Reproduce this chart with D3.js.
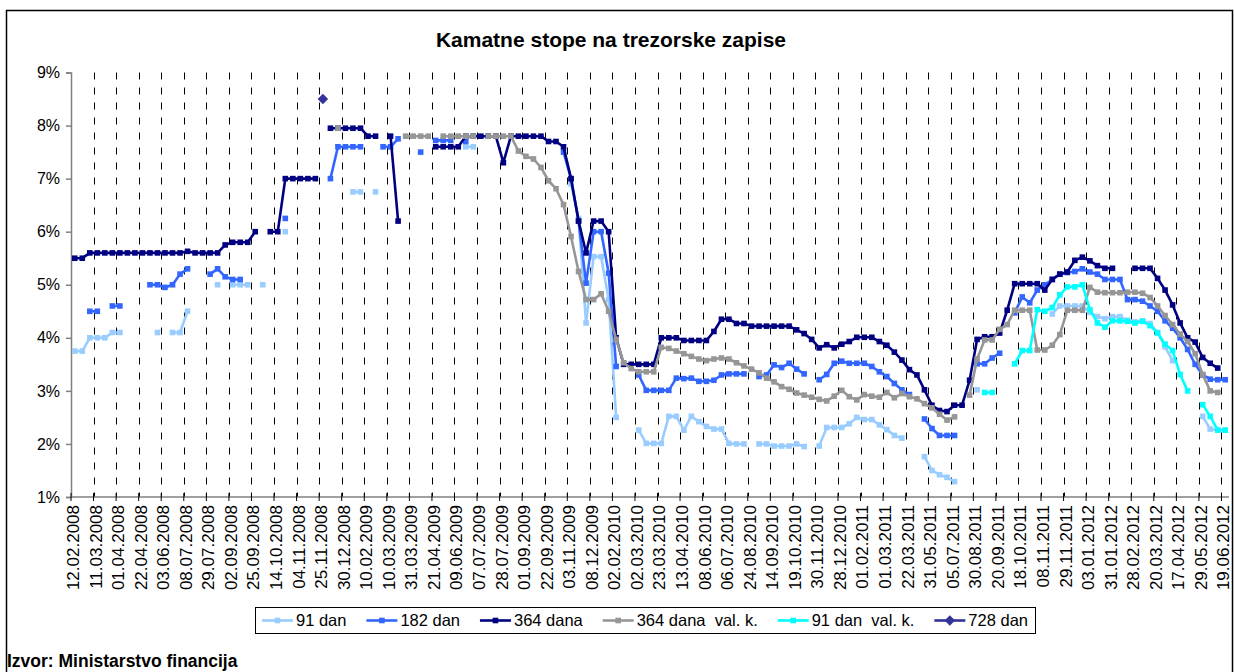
<!DOCTYPE html>
<html>
<head>
<meta charset="utf-8">
<script src="https://cdn.jsdelivr.net/npm/d3@7"></script>
<style>
  body { margin: 0; background: #fff; }
  svg { display: block; font-family: Arial, "Liberation Sans", sans-serif; }
</style>
</head>
<body>
<svg id="chart"></svg>
<script>
const _ = null;

// tick labels, one every 3 auctions
const tickLabels = ["12.02.2008","11.03.2008","01.04.2008","22.04.2008","03.06.2008","08.07.2008","29.07.2008",
  "02.09.2008","25.09.2008","14.10.2008","04.11.2008","25.11.2008","30.12.2008","10.02.2009","10.03.2009",
  "31.03.2009","21.04.2009","09.06.2009","07.07.2009","28.07.2009","01.09.2009","22.09.2009","03.11.2009",
  "08.12.2009","02.02.2010","02.03.2010","23.03.2010","13.04.2010","08.06.2010","06.07.2010","24.08.2010",
  "14.09.2010","19.10.2010","30.11.2010","28.12.2010","01.02.2011","01.03.2011","22.03.2011","31.05.2011",
  "05.07.2011","30.08.2011","20.09.2011","18.10.2011","08.11.2011","29.11.2011","03.01.2012","31.01.2012",
  "28.02.2012","20.03.2012","17.04.2012","29.05.2012","19.06.2012"];
const nAuctions = 154;

// values in %, one per auction
const dan91 = [
  3.75,3.75,4.0,4.0,4.0,4.1,4.1,_,_,_,
  _,4.1,_,4.1,4.1,4.5,_,_,_,5.0,
  _,5.0,5.0,5.0,_,5.0,_,_,6.0,_,
  _,_,_,_,_,_,_,6.75,6.75,_,
  6.75,_,_,_,_,_,_,_,_,_,
  _,_,7.6,7.6,_,_,_,_,_,_,
  _,_,_,_,_,_,6.9,6.25,4.28,5.53,
  5.53,4.72,2.5,_,_,2.26,2.01,2.01,2.01,2.52,
  2.52,2.26,2.52,2.42,2.33,2.28,2.28,2.01,2.0,2.0,
  _,2.0,2.0,1.96,1.96,1.96,2.0,1.95,_,1.96,
  2.31,2.31,2.31,2.38,2.5,2.46,2.46,2.36,2.27,2.16,
  2.11,_,_,1.76,1.5,1.42,1.37,1.29,_,_,
  3.02,_,_,_,_,_,_,_,_,_,
  4.45,4.6,4.6,4.6,4.6,4.48,4.4,4.36,4.4,4.4,
  4.33,4.3,4.32,4.27,4.1,3.83,3.57,_,_,_,
  2.52,2.28,2.26,2.26];

const dan182 = [
  _,_,4.5,4.5,_,4.6,4.6,_,_,_,
  5.0,5.0,4.95,5.0,5.2,5.3,_,_,5.2,5.3,
  5.15,5.1,5.1,_,_,_,_,_,6.25,_,
  _,_,_,_,7.0,7.6,7.6,7.6,7.6,_,
  _,7.6,7.6,7.75,_,_,7.5,_,7.72,7.72,
  7.72,_,7.7,_,_,_,_,_,_,_,
  _,_,_,_,_,7.5,7.0,6.2,5.03,6.0,
  6.0,5.22,3.46,_,_,3.3,3.01,3.01,3.01,3.01,
  3.24,3.23,3.24,3.18,3.18,3.2,3.3,3.32,3.32,3.32,
  _,3.27,3.3,3.49,3.44,3.52,3.41,3.32,_,3.21,
  3.31,3.52,3.56,3.52,3.52,3.52,3.46,3.36,3.27,3.14,
  3.02,2.93,_,2.47,2.29,2.16,2.16,2.16,_,_,
  3.51,3.51,3.62,3.71,_,4.47,4.77,4.66,4.9,5.0,
  5.1,5.2,5.23,5.25,5.3,5.24,5.2,5.1,5.1,5.1,
  4.72,4.72,4.69,4.6,4.5,4.32,4.18,4.0,3.78,3.5,
  3.3,3.22,3.21,3.21];

const dan364 = [
  5.5,5.5,5.6,5.6,5.6,5.6,5.6,5.6,5.6,5.6,
  5.6,5.6,5.6,5.6,5.6,5.63,5.6,5.6,5.6,5.6,
  5.75,5.8,5.8,5.8,6.0,_,6.0,6.0,7.0,7.0,
  7.0,7.0,7.0,_,7.95,7.95,7.95,7.95,7.95,7.8,
  7.8,_,7.8,6.2,_,_,_,_,7.6,7.6,
  7.6,7.6,7.8,7.8,7.8,7.8,7.8,7.3,7.8,7.8,
  7.8,7.8,7.8,7.7,7.7,7.6,7.0,6.2,5.6,6.2,
  6.2,6.0,4.0,3.5,3.5,3.5,3.5,3.5,4.0,4.0,
  4.0,3.95,3.95,3.95,3.95,4.12,4.35,4.35,4.27,4.27,
  4.22,4.22,4.22,4.22,4.22,4.22,4.15,4.08,3.97,3.81,
  3.87,3.81,3.88,3.93,4.01,4.01,4.01,3.93,3.86,3.73,
  3.58,3.4,3.3,3.02,2.73,2.63,2.61,2.73,2.73,3.2,
  3.97,4.02,4.02,4.09,4.52,5.02,5.02,5.02,5.02,4.9,
  5.1,5.2,5.24,5.46,5.52,5.45,5.36,5.31,5.31,_,
  _,5.31,5.31,5.31,5.12,4.9,4.62,4.28,4.0,3.92,
  3.63,3.52,3.43,_];

const dan364vk = [
  _,_,_,_,_,_,_,_,_,_,
  _,_,_,_,_,_,_,_,_,_,
  _,_,_,_,_,_,_,_,_,_,
  _,_,_,_,_,7.95,_,_,_,_,
  _,_,_,_,7.8,7.8,7.8,7.8,_,7.8,
  7.8,7.8,7.8,7.8,_,7.8,7.8,7.8,7.8,7.52,
  7.42,7.37,7.21,6.96,6.81,6.51,5.91,5.25,4.72,4.72,
  4.83,4.5,3.97,3.53,3.42,3.36,3.36,3.36,3.82,3.8,
  3.75,3.7,3.65,3.6,3.57,3.6,3.62,3.6,3.53,3.47,
  3.41,3.34,3.24,3.17,3.08,3.03,2.96,2.92,2.88,2.84,
  2.81,2.9,3.01,2.89,2.83,2.93,2.9,2.88,2.97,2.87,
  2.95,2.89,2.85,2.76,2.68,2.56,2.45,2.51,_,2.92,
  3.6,3.96,3.96,4.16,4.25,4.52,4.52,4.52,3.77,3.77,
  3.86,4.06,4.52,4.52,4.52,4.95,4.86,4.85,4.85,4.85,
  4.86,4.86,4.84,4.76,4.6,4.42,4.25,4.07,3.93,3.7,
  3.31,3.0,2.97,_];

const dan91vk = [
  _,_,_,_,_,_,_,_,_,_,
  _,_,_,_,_,_,_,_,_,_,
  _,_,_,_,_,_,_,_,_,_,
  _,_,_,_,_,_,_,_,_,_,
  _,_,_,_,_,_,_,_,_,_,
  _,_,_,_,_,_,_,_,_,_,
  _,_,_,_,_,_,_,_,_,_,
  _,_,_,_,_,_,_,_,_,_,
  _,_,_,_,_,_,_,_,_,_,
  _,_,_,_,_,_,_,_,_,_,
  _,_,_,_,_,_,_,_,_,_,
  _,_,_,_,_,_,_,_,_,_,
  _,2.97,2.97,_,_,3.51,3.76,3.76,4.53,4.5,
  4.57,4.81,4.96,4.96,5.0,4.53,4.28,4.2,4.32,4.32,
  4.31,4.28,4.31,4.23,4.09,3.88,3.76,3.31,3.0,_,
  2.74,2.52,2.26,2.26];

// only one 728-day auction (index 33)
const dan728 = [
  _,_,_,_,_,_,_,_,_,_,
  _,_,_,_,_,_,_,_,_,_,
  _,_,_,_,_,_,_,_,_,_,
  _,_,_,8.5];

const seriesNames = ["91 dan", "182 dan", "364 dana", "364 dana  val. k.", "91 dan  val. k.", "728 dan"];
const seriesColors = ["#99ccff", "#3366ff", "#000080", "#969696", "#00ffff", "#333399"];
const yTicks = [1, 2, 3, 4, 5, 6, 7, 8, 9];

class RateChart {
  constructor(_config, _data) {
    this.config = {
      parentElement: _config.parentElement,
      containerWidth: _config.containerWidth || 1234,
      containerHeight: _config.containerHeight || 672,
      margin: _config.margin || {top: 72.5, right: 5, bottom: 175, left: 71}
    }
    this.data = _data;
    this.initVis();
  }

  initVis() {
    let vis = this;
    const m = vis.config.margin;
    vis.width = vis.config.containerWidth - m.left - m.right;
    vis.height = vis.config.containerHeight - m.top - m.bottom;

    vis.svg = d3.select(vis.config.parentElement)
      .attr('width', vis.config.containerWidth)
      .attr('height', vis.config.containerHeight);

    // outer frame
    vis.svg.append('rect')
      .attr('x', 6.5).attr('y', 10.5)
      .attr('width', 1226).attr('height', 700)
      .attr('fill', 'none').attr('stroke', '#000').attr('stroke-width', 1.5);

    vis.svg.append('text')
      .attr('x', 611).attr('y', 47)
      .attr('text-anchor', 'middle')
      .style('font-size', '21px').style('font-weight', 'bold')
      .text('Kamatne stope na trezorske zapise');

    vis.svg.append('text')
      .attr('x', 7).attr('y', 667)
      .style('font-size', '17.5px').style('font-weight', 'bold')
      .text('Izvor: Ministarstvo financija');

    vis.chart = vis.svg.append('g')
      .attr('transform', `translate(${m.left},${m.top})`);

    vis.updateVis();
  }

  updateVis() {
    let vis = this;
    vis.x = d3.scaleBand()
      .domain(d3.range(nAuctions))
      .range([0, vis.width]);
    vis.y = d3.scaleLinear()
      .domain([1, 9])
      .range([vis.height, 0]);
    vis.tickIdx = tickLabels.map((d, i) => i * 3);
    vis.renderVis();
  }

  renderVis() {
    let vis = this;
    const h = vis.height;

    // dashed vertical gridlines
    vis.chart.append('g').selectAll('line')
      .data(vis.tickIdx.slice(1))
      .join('line')
        .attr('x1', d => Math.round(vis.x(d)) + 0.5)
        .attr('x2', d => Math.round(vis.x(d)) + 0.5)
        .attr('y1', 0).attr('y2', h)
        .attr('stroke', '#000')
        .attr('stroke-dasharray', '7,8');

    // y axis
    const yAxis = d3.axisLeft(vis.y)
      .tickValues(yTicks)
      .tickSize(5)
      .tickPadding(6)
      .tickFormat(d => d + '%');
    const yg = vis.chart.append('g').call(yAxis);
    yg.select('.domain').attr('stroke', '#808080').attr('stroke-width', 1.5);
    yg.selectAll('.tick line').attr('stroke', '#808080').attr('stroke-width', 1.5);
    yg.selectAll('text').style('font-size', '16px').attr('fill', '#000').style('font-family', 'Arial, "Liberation Sans", sans-serif');

    // x axis
    const xg = vis.chart.append('g').attr('transform', `translate(0,${h})`);
    xg.append('line')
      .attr('x1', 0).attr('x2', vis.width)
      .attr('stroke', '#808080').attr('stroke-width', 1.5);
    xg.selectAll('.xtick')
      .data(vis.tickIdx)
      .join('line')
        .attr('class', 'xtick')
        .attr('x1', d => vis.x(d)).attr('x2', d => vis.x(d))
        .attr('y1', -4).attr('y2', 4)
        .attr('stroke', '#000');
    xg.selectAll('.xlabel')
      .data(vis.tickIdx)
      .join('text')
        .attr('class', 'xlabel')
        .attr('transform', d => `translate(${vis.x(d) + 2},8) rotate(-90)`)
        .attr('dy', '0.35em')
        .attr('text-anchor', 'end')
        .style('font-size', '17px')
        .text((d, i) => tickLabels[i]);

    // series
    const half = vis.x.bandwidth() / 2;
    const line = d3.line()
      .defined(d => d.v !== null && d.v !== undefined)
      .x(d => vis.x(d.i) + half)
      .y(d => vis.y(d.v));

    vis.data.forEach((s, si) => {
      const pts = d3.range(nAuctions).map(i => ({i: i, v: s[i] === undefined ? null : s[i]}));
      const color = seriesColors[si];
      const g = vis.chart.append('g');
      g.append('path')
        .datum(pts)
        .attr('d', line)
        .attr('fill', 'none')
        .attr('stroke', color)
        .attr('stroke-width', 2.6)
        .attr('stroke-linejoin', 'round');
      const valid = pts.filter(d => d.v !== null);
      if (si === 5) {
        g.selectAll('path.mk')
          .data(valid)
          .join('path')
            .attr('class', 'mk')
            .attr('d', d3.symbol(d3.symbolDiamond2, 70))
            .attr('transform', d => `translate(${vis.x(d.i) + half},${vis.y(d.v)})`)
            .attr('fill', color);
      } else {
        g.selectAll('rect')
          .data(valid)
          .join('rect')
            .attr('x', d => vis.x(d.i) + half - 2.8)
            .attr('y', d => vis.y(d.v) - 2.8)
            .attr('width', 5.6).attr('height', 5.6)
            .attr('fill', color);
      }
    });

    vis.renderLegend();
  }

  renderLegend() {
    let vis = this;
    // legend box spans x 255..1035 in the original
    const boxLeft = 255, boxRight = 1035;
    const lg = vis.svg.append('g').attr('transform', 'translate(0,620.5)');
    lg.append('rect')
      .attr('x', boxLeft + 0.5).attr('y', -13)
      .attr('width', boxRight - boxLeft).attr('height', 26)
      .attr('fill', '#fff').attr('stroke', '#000');
    const items = [];
    let used = 0;
    seriesNames.forEach((name, i) => {
      const it = lg.append('g');
      it.append('line')
        .attr('x1', 0).attr('x2', 31)
        .attr('stroke', seriesColors[i]).attr('stroke-width', 2.6);
      if (i === 5) {
        it.append('path')
          .attr('d', d3.symbol(d3.symbolDiamond2, 70))
          .attr('transform', 'translate(15.5,0)')
          .attr('fill', seriesColors[i]);
      } else {
        it.append('rect')
          .attr('x', 12.7).attr('y', -2.8)
          .attr('width', 5.6).attr('height', 5.6)
          .attr('fill', seriesColors[i]);
      }
      const t = it.append('text')
        .attr('x', 34).attr('dy', '0.35em')
        .style('font-size', '16.5px')
        .style('white-space', 'pre')
        .text(name);
      const w = 34 + t.node().getComputedTextLength();
      items.push({g: it, w: w});
      used += w;
    });
    const pad = 7;
    const gap = (boxRight - boxLeft - 2 * pad - used) / (items.length - 1);
    let cx = boxLeft + pad;
    items.forEach(d => {
      d.g.attr('transform', `translate(${cx},0)`);
      cx += d.w + gap;
    });
  }
}

const chart = new RateChart({parentElement: '#chart'}, [dan91, dan182, dan364, dan364vk, dan91vk, dan728]);
</script>
</body>
</html>
